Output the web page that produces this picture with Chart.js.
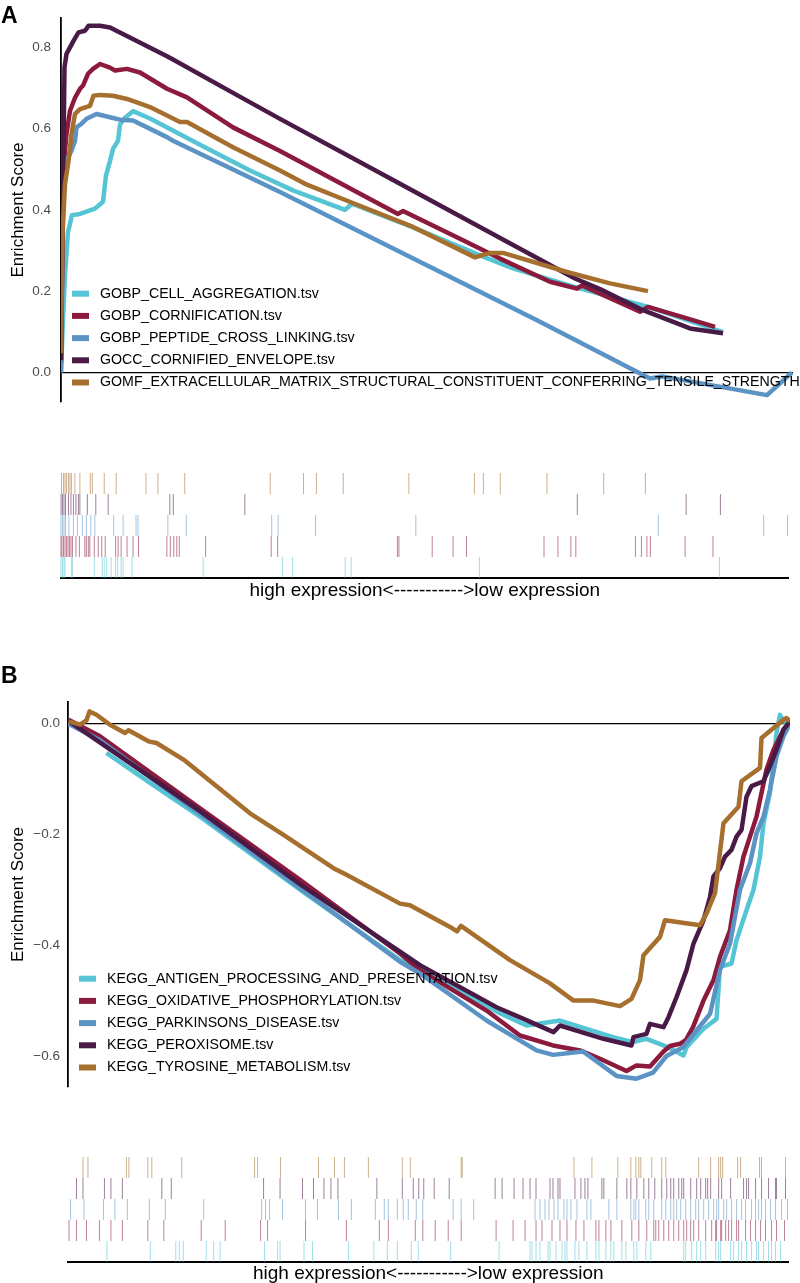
<!DOCTYPE html>
<html>
<head>
<meta charset="utf-8">
<script src="https://cdn.jsdelivr.net/npm/chart.js@4.4.1/dist/chart.umd.min.js"></script>
<style>
  body { margin: 0; background: #fff; width: 800px; height: 1283px; position: relative; overflow: hidden; }
  canvas { position: absolute; left: 0; }
  .tag { position: absolute; left: 1px; font: bold 23px/23px "Liberation Sans", Arial, sans-serif; color: #000; }
</style>
</head>
<body>
<canvas id="lineA" width="800" height="440" style="top:0"></canvas>
<canvas id="rugA" width="800" height="160" style="top:440px"></canvas>
<canvas id="lineB" width="800" height="470" style="top:640px"></canvas>
<canvas id="rugB" width="800" height="153" style="top:1130px"></canvas>
<div class="tag" style="top:4px">A</div>
<div class="tag" style="top:664px">B</div>
<script>
// gene set names
const setsA = ['GOBP_CELL_AGGREGATION.tsv', 'GOBP_CORNIFICATION.tsv', 'GOBP_PEPTIDE_CROSS_LINKING.tsv',
  'GOCC_CORNIFIED_ENVELOPE.tsv', 'GOMF_EXTRACELLULAR_MATRIX_STRUCTURAL_CONSTITUENT_CONFERRING_TENSILE_STRENGTH.tsv']
const setsB = ['KEGG_ANTIGEN_PROCESSING_AND_PRESENTATION.tsv', 'KEGG_OXIDATIVE_PHOSPHORYLATION.tsv',
  'KEGG_PARKINSONS_DISEASE.tsv', 'KEGG_PEROXISOME.tsv', 'KEGG_TYROSINE_METABOLISM.tsv']

// tick values on the y axes
const ticksA = [0, 0.2, 0.4, 0.6, 0.8]
const ticksB = [-0.6, -0.4, -0.2, 0]

// length of the ranked list in each panel
const nGenesA = 1464
const nGenesB = 1444

// panel A: running enrichment score (rank position, ES)
const cellAggRank = [0,4,8,14,22,38,68,84,90,98,104,114,118,128,144,178,278,378,464,568,582,704,838,904,1028,1178,1312,1324]
const cellAggES = [0,0.13,0.24,0.345,0.387,0.39,0.403,0.42,0.485,0.52,0.55,0.57,0.61,0.627,0.643,0.625,0.56,0.497,0.448,0.40,0.415,0.357,0.288,0.256,0.21,0.16,0.104,0.099]
const cornifRank = [0,5,11,18,28,38,44,54,64,78,98,108,132,158,212,252,344,438,674,684,804,878,978,1032,1042,1158,1174,1252,1308]
const cornifES = [0.02,0.505,0.587,0.644,0.676,0.698,0.706,0.735,0.747,0.759,0.75,0.743,0.747,0.738,0.698,0.677,0.603,0.545,0.39,0.397,0.325,0.28,0.223,0.206,0.214,0.149,0.161,0.133,0.112]
const peptideRank = [0,2,5,11,21,28,31,41,51,71,98,118,144,212,224,438,952,1178,1202,1412,1462]
const peptideES = [0,0.3,0.505,0.52,0.546,0.57,0.603,0.612,0.624,0.636,0.628,0.622,0.62,0.579,0.57,0.444,0.128,-0.015,-0.01,-0.056,0.0]
const envelopeRank = [0,2,4,7,11,18,25,35,48,55,78,98,212,224,344,438,678,918,1028,1078,1164,1258,1324]
const envelopeES = [0.03,0.27,0.45,0.751,0.784,0.80,0.816,0.837,0.841,0.853,0.853,0.849,0.778,0.77,0.688,0.624,0.464,0.304,0.231,0.205,0.153,0.108,0.096]
const tensileRank = [0,3,8,15,21,28,38,58,65,78,104,132,178,238,252,344,438,488,571,704,828,858,884,1012,1098,1174]
const tensileES = [0.047,0.34,0.464,0.52,0.587,0.636,0.648,0.656,0.681,0.683,0.681,0.673,0.653,0.616,0.616,0.554,0.497,0.464,0.423,0.358,0.283,0.294,0.294,0.247,0.219,0.20]

// panel A: positions of the member genes (rug)
const cellAggHits = [0,3,6,8,21,23,67,83,87,92,101,110,114,121,125,143,286,446,466,572,584,842,1325]
const cornifHits = [0,2,5,8,11,14,17,20,23,30,37,48,51,55,58,67,75,82,89,110,115,121,133,145,156,213,220,227,233,238,291,423,436,677,680,747,789,816,972,1000,1026,1036,1156,1168,1179,1186,1256,1312]
const peptideHits = [0,3,6,9,16,25,33,43,51,60,68,106,125,151,155,215,252,424,437,512,714,1202,1414,1462]
const envelopeHits = [0,3,6,9,15,20,25,30,35,38,53,70,95,219,226,370,1039,1258,1327]
const tensileHits = [1,5,8,11,15,18,21,28,38,59,63,87,111,171,195,249,421,488,514,568,700,832,850,884,978,1092,1176]

// panel B: running enrichment score
const antigenRank = [77,164,264,464,664,704,864,917,984,1090,1130,1157,1197,1231,1237,1271,1297,1304,1327,1337,1357,1371,1384,1391,1404,1411,1417,1424,1431,1444]
const antigenES = [-0.053,-0.107,-0.168,-0.30,-0.427,-0.442,-0.523,-0.545,-0.536,-0.566,-0.575,-0.569,-0.583,-0.599,-0.584,-0.551,-0.533,-0.439,-0.433,-0.391,-0.337,-0.30,-0.24,-0.18,-0.125,-0.065,-0.017,0.016,0.004,0.0]
const oxphosRank = [1,64,264,464,664,704,837,904,970,1024,1064,1117,1137,1164,1191,1204,1224,1236,1250,1271,1291,1304,1324,1337,1351,1364,1377,1384,1397,1411,1431,1444]
const oxphosES = [0.007,-0.023,-0.153,-0.282,-0.415,-0.445,-0.518,-0.563,-0.581,-0.59,-0.605,-0.627,-0.617,-0.619,-0.592,-0.582,-0.578,-0.571,-0.548,-0.50,-0.463,-0.421,-0.373,-0.30,-0.24,-0.204,-0.168,-0.138,-0.083,-0.047,-0.011,0.004]
const parkinsonsRank = [1,64,264,464,664,704,837,937,970,1030,1097,1137,1170,1197,1231,1257,1284,1304,1324,1344,1364,1377,1391,1404,1417,1431,1444]
const parkinsonsES = [0,-0.03,-0.163,-0.297,-0.43,-0.451,-0.536,-0.59,-0.598,-0.592,-0.636,-0.641,-0.63,-0.6,-0.584,-0.554,-0.524,-0.445,-0.397,-0.30,-0.252,-0.198,-0.168,-0.119,-0.059,-0.023,0]
const peroxisomeRank = [1,17,264,464,704,857,911,971,984,1071,1127,1131,1157,1164,1191,1201,1217,1237,1251,1271,1284,1291,1304,1314,1327,1337,1347,1357,1367,1391,1404,1417,1431,1444]
const peroxisomeES = [0.005,-0.005,-0.158,-0.29,-0.436,-0.512,-0.533,-0.557,-0.545,-0.569,-0.581,-0.566,-0.56,-0.542,-0.548,-0.53,-0.494,-0.445,-0.397,-0.355,-0.313,-0.276,-0.261,-0.24,-0.228,-0.204,-0.192,-0.132,-0.113,-0.104,-0.077,-0.047,-0.011,0.004]
const tyrosineRank = [1,24,37,43,57,84,114,121,161,177,231,364,431,531,557,664,684,764,778,786,884,964,1011,1051,1104,1127,1144,1151,1184,1194,1264,1277,1294,1311,1341,1347,1384,1387,1431,1437,1444]
const tyrosineES = [0.004,-0.002,0.006,0.022,0.016,-0.002,-0.017,-0.012,-0.032,-0.035,-0.065,-0.162,-0.201,-0.261,-0.273,-0.325,-0.328,-0.367,-0.375,-0.365,-0.427,-0.469,-0.50,-0.50,-0.51,-0.497,-0.463,-0.418,-0.385,-0.355,-0.364,-0.343,-0.306,-0.18,-0.15,-0.104,-0.08,-0.026,0.007,0.01,0.004]

// panel B: member gene positions
const antigenHits = [78,165,216,223,231,277,292,305,394,420,425,473,490,562,613,640,660,688,702,767,864,926,930,938,946,962,966,978,990,996,1000,1016,1024,1040,1058,1064,1078,1088,1094,1110,1118,1134,1140,1158,1168,1234,1238,1250,1260,1268,1278,1298,1304,1308,1328,1334,1344,1350,1360,1370,1380,1384,1394,1404,1410,1418,1428]
const oxphosHits = [2,17,37,63,86,109,160,192,267,315,386,400,476,558,624,642,696,711,736,762,788,858,892,916,938,950,970,986,1000,1018,1034,1058,1064,1078,1088,1110,1130,1144,1160,1174,1178,1184,1194,1204,1214,1224,1234,1240,1248,1254,1264,1278,1290,1298,1300,1308,1310,1318,1324,1330,1340,1344,1358,1368,1378,1388,1398,1410,1420,1436]
const parkinsonsHits = [5,32,71,94,119,163,195,272,388,396,404,430,476,500,542,568,616,634,642,660,672,682,698,711,772,788,813,936,946,956,964,974,982,994,1000,1008,1020,1040,1048,1084,1100,1128,1134,1138,1144,1158,1164,1174,1190,1198,1208,1214,1220,1228,1238,1248,1258,1264,1274,1284,1294,1300,1304,1314,1320,1330,1340,1350,1358,1370,1378,1384,1390,1398,1408,1418,1430,1442]
const peroxisomeHits = [17,30,73,86,109,188,207,392,425,470,492,513,527,541,619,670,692,703,713,734,764,856,870,894,912,926,938,966,972,982,986,1016,1028,1036,1042,1070,1074,1100,1120,1128,1140,1154,1164,1176,1190,1200,1208,1214,1224,1230,1234,1248,1260,1268,1278,1282,1288,1304,1310,1328,1354,1360,1364,1378,1390,1404,1418,1420,1438]
const tyrosineHits = [30,40,117,122,160,168,228,374,380,426,502,534,554,602,670,686,788,790,1014,1050,1102,1128,1138,1144,1148,1170,1190,1198,1264,1288,1304,1308,1312,1342,1348,1386,1390,1438]

const palette = ['#55C5D5', '#8B1A3C', '#5B93C4', '#4A1A47', '#A66F2D']
const FONT = '"Liberation Sans", Arial, sans-serif'
Chart.defaults.font.family = FONT
Chart.defaults.color = '#000'

function fade(hex, a) {
  const n = parseInt(hex.slice(1), 16)
  return 'rgba(' + (n >> 16) + ',' + ((n >> 8) & 255) + ',' + (n & 255) + ',' + a + ')'
}

// legend drawn inside the plot, bottom left, like ggplot's legend.position
const insetLegend = {
  id: 'insetLegend',
  afterDatasetsDraw(chart, args, opts) {
    const { ctx, chartArea } = chart
    const sets = chart.data.datasets
    ctx.save()
    ctx.font = opts.font
    ctx.textBaseline = 'middle'
    sets.forEach((ds, i) => {
      const y = chartArea.bottom - opts.bottom - (sets.length - 1 - i) * opts.rowHeight
      ctx.strokeStyle = ds.borderColor
      ctx.lineWidth = 6
      ctx.beginPath()
      ctx.moveTo(chartArea.left + opts.swatchX, y)
      ctx.lineTo(chartArea.left + opts.swatchX + opts.swatchLen, y)
      ctx.stroke()
      ctx.fillStyle = '#000'
      ctx.fillText(ds.label, chartArea.left + opts.textX, y)
    })
    ctx.restore()
  }
}

function esChart(id, labels, ranks, scores, o) {
  return new Chart(document.getElementById(id), {
    type: 'line',
    data: {
      datasets: labels.map((lab, i) => ({
        label: lab,
        data: ranks[i].map((r, j) => ({ x: r, y: scores[i][j] })),
        borderColor: palette[i],
        borderWidth: 4.5,
        pointRadius: 0,
        tension: 0,
        borderJoinStyle: 'round',
        order: labels.length - 1 - i
      }))
    },
    options: {
      responsive: false,
      animation: false,
      events: [],
      layout: { padding: o.padding },
      plugins: {
        legend: { display: false },
        tooltip: { enabled: false },
        insetLegend: { font: '14.2px ' + FONT, bottom: 19.5, rowHeight: 22.2, swatchX: 11, swatchLen: 17, textX: 39 }
      },
      scales: {
        x: { type: 'linear', display: false, min: 0, max: o.xMax },
        y: {
          min: o.yMin,
          max: o.yMax,
          afterFit: s => { s.width = o.axisWidth },
          afterBuildTicks: s => { s.ticks = o.ticks.map(v => ({ value: v })) },
          border: { display: true, color: '#000', width: 1.8 },
          grid: {
            drawTicks: false,
            lineWidth: 1.3,
            color: c => (c.tick && Math.abs(c.tick.value) < 1e-9) ? '#000' : 'rgba(0,0,0,0)'
          },
          ticks: {
            padding: o.tickPad,
            color: '#4D4D4D',
            font: { size: 13.5 },
            callback: v => v.toFixed(1).replace('-', '\u2212')
          },
          title: { display: true, text: 'Enrichment Score', color: '#000', font: { size: 17 }, padding: { top: 8, bottom: 0 } }
        }
      }
    },
    plugins: [insetLegend]
  })
}

function rugChart(id, hits, o) {
  return new Chart(document.getElementById(id), {
    type: 'scatter',
    data: {
      datasets: hits.map((h, i) => ({
        data: h.map(r => ({ x: r, y: i })),
        pointStyle: 'line',
        pointRotation: 90,
        pointRadius: 10.5,
        pointBorderWidth: 1,
        pointBorderColor: fade(palette[i], 0.55),
        pointBackgroundColor: fade(palette[i], 0.55),
        clip: false
      }))
    },
    options: {
      responsive: false,
      animation: false,
      events: [],
      layout: { padding: o.padding },
      plugins: { legend: { display: false }, tooltip: { enabled: false } },
      scales: {
        x: {
          type: 'linear', min: 0, max: o.xMax,
          grid: { display: false, drawTicks: false },
          ticks: { display: false },
          border: { display: true, color: '#000', width: 2 },
          title: {
            display: true,
            text: 'high expression<----------->low expression',
            color: '#000',
            font: { size: 19, lineHeight: 1 },
            padding: { top: o.titlePad, bottom: 0 }
          }
        },
        y: { display: false, min: -0.5, max: 4.5 }
      }
    }
  })
}

esChart('lineA', setsA,
  [cellAggRank, cornifRank, peptideRank, envelopeRank, tensileRank],
  [cellAggES, cornifES, peptideES, envelopeES, tensileES],
  { padding: { top: 17, bottom: 38, left: 0, right: 7 }, xMax: nGenesA, yMin: -0.073, yMax: 0.872, ticks: ticksA, axisWidth: 61, tickPad: 10 })

rugChart('rugA', [cellAggHits, cornifHits, peptideHits, envelopeHits, tensileHits],
  { padding: { top: 33, left: 61, right: 7, bottom: 0 }, xMax: nGenesA, titlePad: 3 })

esChart('lineB', setsB,
  [antigenRank, oxphosRank, parkinsonsRank, peroxisomeRank, tyrosineRank],
  [antigenES, oxphosES, parkinsonsES, peroxisomeES, tyrosineES],
  { padding: { top: 62, bottom: 23, left: 0, right: 10 }, xMax: nGenesB, yMin: -0.656, yMax: 0.039, ticks: ticksB, axisWidth: 68, tickPad: 8 })

rugChart('rugB', [antigenHits, oxphosHits, parkinsonsHits, peroxisomeHits, tyrosineHits],
  { padding: { top: 27, left: 68, right: 10, bottom: 0 }, xMax: nGenesB, titlePad: 2 })
</script>
</body>
</html>
